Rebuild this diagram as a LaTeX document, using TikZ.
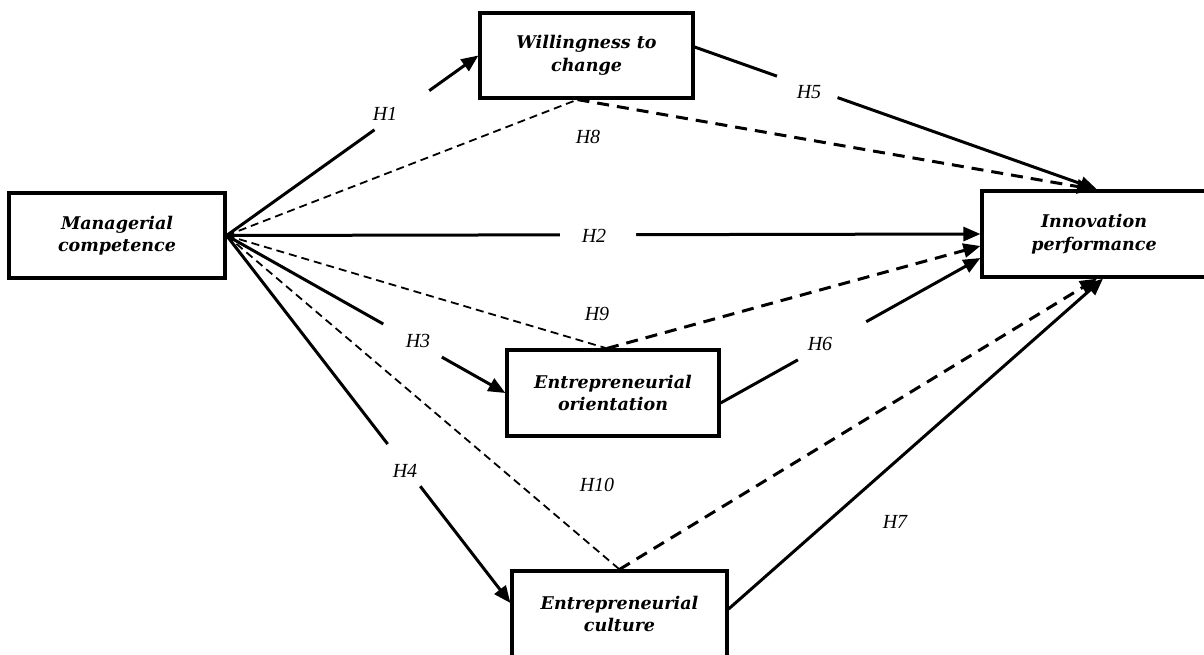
\documentclass[tikz,border=0pt]{standalone}
\usepackage{fontspec}
\setmainfont{Liberation Serif}
\newfontfamily\boxfont{DejaVu Serif}
\usetikzlibrary{arrows.meta}
\begin{document}
\begin{tikzpicture}[x=1pt,y=-1pt,
  box/.style={draw, line width=3.2pt, inner sep=0pt, align=center,
    font=\boxfont\bfseries\itshape\fontsize{17.5}{22.5}\selectfont},
  lab/.style={font=\itshape\fontsize{20}{24}\selectfont, inner sep=0pt},
  tip/.style={-{Triangle[length=17pt,width=14pt]}},
  solid arrow/.style={line width=3pt, tip},
  thin dash/.style={line width=1.8pt, dash pattern=on 8pt off 5pt},
  thick dash/.style={line width=3pt, dash pattern=on 12pt off 8pt, tip},
  gapw/.style={fill=white, inner sep=0pt, minimum height=10pt, sloped}]
\useasboundingbox (0,0) rectangle (1204,655);
\clip (0,0) rectangle (1204,655);

% boxes
\node[box, minimum width=216pt, minimum height=85pt] (mc) at (117,235.5) {Managerial\\competence};
\node[box, minimum width=213pt, minimum height=85pt] (wc) at (586.5,55.5) {Willingness to\\change};
\node[box, minimum width=224pt, minimum height=86pt] (ip) at (1094,234) {Innovation\\performance};
\node[box, minimum width=212pt, minimum height=86pt] (eo) at (613,393) {Entrepreneurial\\orientation};
\node[box, minimum width=215pt, minimum height=86pt] (ec) at (619.5,614) {Entrepreneurial\\culture};

% anchor coordinates
\coordinate (wcE) at ([yshift=8.5pt]wc.east);
\coordinate (eoE) at ([yshift=-10pt]eo.east);
\coordinate (ecE) at ([yshift=5pt]ec.east);
\coordinate (ecW) at ([yshift=11pt]ec.west);
\coordinate (ipN5) at ([xshift=3pt]ip.north);
\coordinate (ipN8) at ([xshift=0pt]ip.north);
\coordinate (ipW9) at ([yshift=-12pt]ip.west);
\coordinate (ipW6) at ([yshift=-24pt]ip.west);
\coordinate (ipS7) at ([xshift=9pt]ip.south);
\coordinate (ipS10) at ([xshift=3pt]ip.south);
\coordinate (wcS) at ([xshift=-9pt]wc.south);
\coordinate (eoN) at ([xshift=-6pt]eo.north);

% solid hypotheses
\draw[solid arrow] (mc.east) -- (wc.west);
\draw[solid arrow] (mc.east) -- (ip.west);
\draw[solid arrow] (mc.east) -- (eo.west);
\draw[solid arrow] (mc.east) -- (ecW);
\draw[solid arrow] (wcE) -- (ipN5);
\draw[solid arrow] (eoE) -- (ipW6);
\draw[solid arrow] (ecE) -- (ipS7);

% gaps for labels
\path (mc.east) -- (wc.west) node[gapw, pos=0.696, minimum width=67pt] {};
\path (mc.east) -- (ip.west) node[gapw, pos=0.493, minimum width=76pt] {};
\path (mc.east) -- (eo.west) node[gapw, pos=0.667, minimum width=67pt] {};
\path (mc.east) -- (ecW) node[gapw, pos=0.625, minimum width=53pt] {};
\path (wcE) -- (ipN5) node[gapw, pos=0.28, minimum width=64pt] {};
\path (eoE) -- (ipW6) node[gapw, pos=0.429, minimum width=78pt] {};

% dashed (mediated) hypotheses
\draw[thin dash] (mc.east) -- (wcS);
\draw[thick dash] (wcS) -- (ipN8);
\draw[thin dash] (mc.east) -- (eoN);
\draw[thick dash] (eoN) -- (ipW9);
\draw[thin dash] (mc.east) -- (ec.north);
\draw[thick dash] (ec.north) -- (ipS10);

% labels
\node[lab] (h1) at (385,114) {H1};
\node[lab] (h2) at (594,236) {H2};
\node[lab] (h3) at (418,341) {H3};
\node[lab] (h4) at (405,471) {H4};
\node[lab] (h5) at (809,92) {H5};
\node[lab] (h6) at (820,344) {H6};
\node[lab] (h7) at (895,522) {H7};
\node[lab] (h8) at (588,137) {H8};
\node[lab] (h9) at (597,314) {H9};
\node[lab] (h10) at (597,485) {H10};
\end{tikzpicture}
\end{document}
